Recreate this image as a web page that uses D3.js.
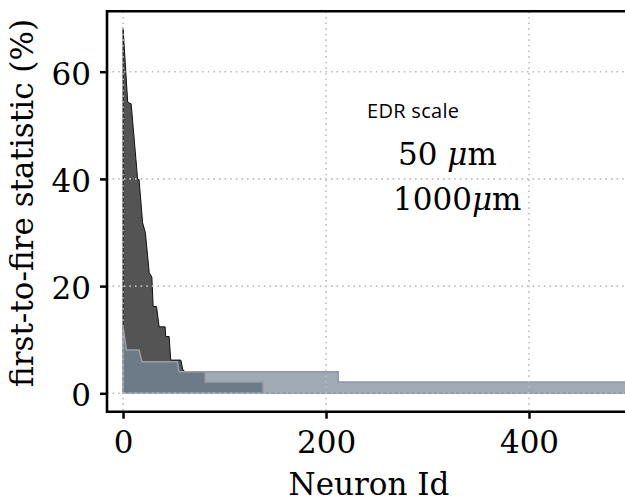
<!doctype html>
<html>
<head>
	<script src="https://d3js.org/d3.v7.min.js"></script>
	<style>
		body { margin: 0; background: #fff; }
		text { font-family: "DejaVu Serif", serif; fill: #000; }
	</style>
</head>
<body>
	<div id="viz">
		<svg style="width:625px;height:499px;"></svg>
	</div>
	<script>

		// first-to-fire statistic per neuron
		var darkIds  = [0, 4.6, 8, 14.4, 15.8, 19.3, 22, 25.8, 28.4, 29.7, 33, 35.6, 41.5, 42, 45.4, 47, 57, 59, 60];
		var darkVals = [68.2, 54.3, 54, 39.9, 39.9, 31.8, 30, 22.5, 21.7, 16.2, 16.2, 12.4, 12.4, 10.6, 10.6, 6.2, 6.2, 4.3, 4.3];

		var slateIds  = [0, 3.3, 15.8, 18.6, 53.6, 55.2, 81, 81, 138];
		var slateVals = [12.4, 8.1, 8.1, 5.9, 5.9, 4.0, 4.0, 2.1, 2.1];

		var lightIds  = [0, 212, 212, 520];
		var lightVals = [4.0, 4.0, 2.1, 2.1];

		var xTicks = [0, 200, 400];
		var yTicks = [0, 20, 40, 60];

		var svg = d3.select("svg");
		var box = {left: 107, right: 631, top: 11.3, bottom: 411.7};

		var xScale = d3.scaleLinear()
			.domain([-15.8, 500.5])
			.range([box.left, box.right]);

		var yScale = d3.scaleLinear()
			.domain([-3.43, 71.27])
			.range([box.bottom, box.top]);

		function toPoints(ids, vals) {
			return ids.map((d, i) => [d, vals[i]]);
		}

		var area = d3.area()
			.x(d => xScale(d[0]))
			.y0(yScale(0))
			.y1(d => yScale(d[1]));

		var series = [
			{pts: toPoints(darkIds, darkVals), fill: "#545454", edge: "#111111", w: 1},
			{pts: toPoints(lightIds, lightVals), fill: "#a0aab4", edge: "#8e98a2", w: 1.5},
			{pts: toPoints(slateIds, slateVals), fill: "#6d7a88", edge: "#9c9fa3", w: 1.5}
		];

		svg.selectAll("path.fill")
			.data(series)
			.enter()
			.append("path")
				.attr("class", "fill")
				.attr("d", d => area(d.pts) )
				.attr("fill", d => d.fill)
				.attr("stroke", d => d.edge)
				.attr("stroke-width", d => d.w)
				.attr("stroke-linejoin", "miter");

		// dotted grid, on top of the fills
		svg.append("g")
			.selectAll("line")
			.data(xTicks)
			.enter()
			.append("line")
				.attr("x1", d => xScale(d)).attr("x2", d => xScale(d))
				.attr("y1", box.top).attr("y2", box.bottom)
				.attr("stroke", "#bdbdbd").attr("stroke-width", 1.6)
				.attr("stroke-dasharray", "1.6,4");

		svg.append("g")
			.selectAll("line")
			.data(yTicks)
			.enter()
			.append("line")
				.attr("x1", box.left).attr("x2", box.right)
				.attr("y1", d => yScale(d)).attr("y2", d => yScale(d))
				.attr("stroke", "#bdbdbd").attr("stroke-width", 1.6)
				.attr("stroke-dasharray", "1.6,4");

		// axes
		var xAxis = d3.axisBottom(xScale).tickValues(xTicks).tickSize(7).tickPadding(8).tickSizeOuter(0);
		var yAxis = d3.axisLeft(yScale).tickValues(yTicks).tickSize(7).tickPadding(9).tickSizeOuter(0);

		var gx = svg.append("g")
			.attr("transform", "translate(0," + box.bottom + ")")
			.call(xAxis);
		var gy = svg.append("g")
			.attr("transform", "translate(" + box.left + ",0)")
			.call(yAxis);

		[gx, gy].forEach(g => {
			g.select(".domain").remove();
			g.selectAll(".tick line").attr("stroke", "#000").attr("stroke-width", 2.5);
			g.selectAll(".tick text")
				.attr("font-family", "DejaVu Serif")
				.attr("font-size", 31)
				.attr("fill", "#000");
		});
		gx.selectAll(".tick text").attr("dy", null).attr("y", 41);
		gy.selectAll(".tick text").attr("dy", null).attr("y", 12.5);

		// spines: left, bottom, top
		svg.append("path")
			.attr("d", "M" + box.right + "," + box.top + "H" + box.left + "V" + box.bottom + "H" + box.right)
			.attr("fill", "none")
			.attr("stroke", "#000")
			.attr("stroke-width", 2.6);

		svg.append("text")
			.attr("x", (box.left + box.right) / 2)
			.attr("y", 495)
			.attr("text-anchor", "middle")
			.attr("font-size", 31)
			.text("Neuron Id");

		svg.append("text")
			.attr("transform", "translate(33,203) rotate(-90)")
			.attr("text-anchor", "middle")
			.attr("font-size", 31)
			.text("first-to-fire statistic (%)");

		// legend (no handles)
		svg.append("text")
			.attr("x", 367)
			.attr("y", 118)
			.style("font-family", "'Open Sans', sans-serif")
			.attr("font-size", 20)
			.attr("letter-spacing", 0.3)
			.text("EDR scale");

		var legendItems = [{label: "50 ", x: 398, y: 165}, {label: "1000", x: 393, y: 210}];
		legendItems.forEach(d => {
			var t = svg.append("text")
				.attr("x", d.x)
				.attr("y", d.y)
				.attr("font-size", 31);
			t.append("tspan").text(d.label);
			t.append("tspan").attr("font-style", "italic").text("\u03bc");
			t.append("tspan").text("m");
		});

	</script>
</body>
</html>
